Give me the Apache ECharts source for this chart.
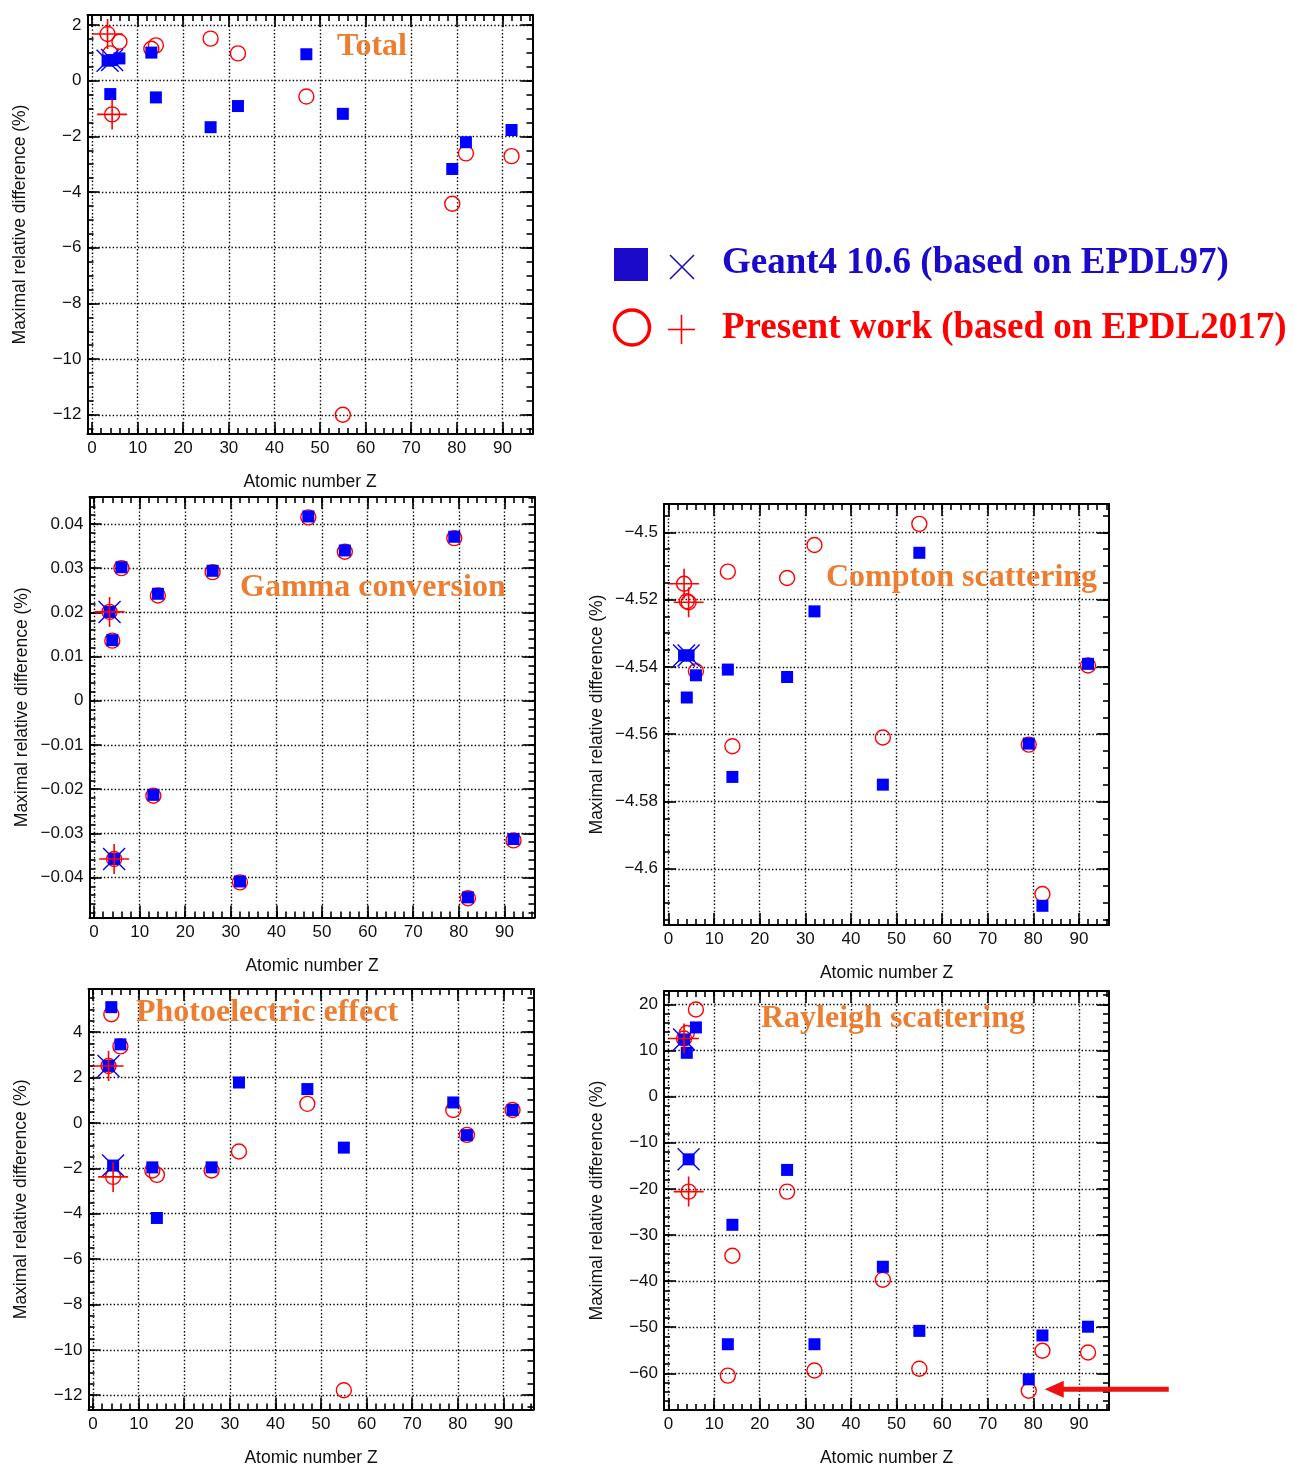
<!DOCTYPE html>
<html><head><meta charset="utf-8">
<script src="https://cdn.jsdelivr.net/npm/echarts@6/dist/echarts.min.js"></script>
<style>html,body{margin:0;padding:0;background:#fff}#c{width:1295px;height:1468px}</style>
</head><body><div id="c"></div>
<script>
// ---------- DATA ----------
// Atomic numbers (first three are the low-Z entries drawn around Z≈4)
const Z = [3.4, 4.0, 4.4, 6, 13, 14, 26, 32, 47, 55, 79, 82, 92];
// indices of points that also carry the × / + markers
const crossIdx = [0, 2];

const g4Total = [0.72, -0.48, 0.74, 0.80, 1.01, -0.60, -1.67, -0.91, 0.95, -1.19, -3.17, -2.21, -1.77];
const pwTotal = [1.68, 0.98, -1.21, 1.40, 1.15, 1.27, 1.51, 0.98, -0.57, -12.0, -4.42, -2.61, -2.71];

const g4Gamma = [0.0201, 0.0137, -0.0358, 0.0302, -0.0213, 0.0242, 0.0294, -0.0409, 0.0417, 0.0340, 0.0371, -0.0445, -0.0313];
const pwGamma = [0.0201, 0.0136, -0.0358, 0.0300, -0.0215, 0.0238, 0.0291, -0.0411, 0.0415, 0.0337, 0.0368, -0.0447, -0.0316];

const g4Compton = [-4.5366, -4.5491, -4.5366, -4.5425, -4.5408, -4.5727, -4.5430, -4.5235, -4.5750, -4.5061, -4.5628, -4.6110, -4.5391];
const pwCompton = [-4.5153, -4.5205, -4.5208, -4.5413, -4.5117, -4.5636, -4.5136, -4.5038, -4.5610, -4.4975, -4.5631, -4.6075, -4.5396];

const g4Photo = [2.51, 5.10, -1.88, 3.46, -1.96, -4.19, -1.96, 1.78, 1.49, -1.09, 0.90, -0.54, 0.57];
const pwPhoto = [2.51, 4.79, -2.38, 3.37, -2.10, -2.29, -2.10, -1.26, 0.84, -11.78, 0.57, -0.53, 0.57];

const g4Rayleigh = [12.4, 9.5, -13.6, 15.0, -53.7, -27.8, -15.9, -53.7, -36.9, -50.8, -61.3, -51.8, -49.9];
const pwRayleigh = [12.6, 13.8, -20.6, 18.9, -60.5, -34.5, -20.6, -59.4, -39.7, -59.0, -63.8, -55.1, -55.5];

// tick labels
const xTicks = [0, 10, 20, 30, 40, 50, 60, 70, 80, 90];
const totalTicks = [-12, -10, -8, -6, -4, -2, 0, 2];
const gammaTicks = [-0.04, -0.03, -0.02, -0.01, 0, 0.01, 0.02, 0.03, 0.04];
const comptonTicks = [-4.6, -4.58, -4.56, -4.54, -4.52, -4.5];
const photoTicks = [-12, -10, -8, -6, -4, -2, 0, 2, 4];
const rayleighTicks = [-60, -50, -40, -30, -20, -10, 0, 10, 20];

const titles = ['Total', 'Gamma conversion', 'Compton scattering', 'Photoelectric effect', 'Rayleigh scattering'];
const legendNames = ['Geant4 10.6 (based on EPDL97)', 'Present work (based on EPDL2017)'];

// ---------- LAYOUT / STYLE ----------
const X_MIN = -1, X_MAX = 96.6, X_MINOR = 2;
const SANS = '"Liberation Sans", Arial, sans-serif';
const SERIF = '"Liberation Serif", "Times New Roman", serif';
const BLUE = '#0000ff', RED = '#ff0000', ORANGE = '#ed7d31', LEG_BLUE = '#1c0acb';

const panels = [
  {grid:{left:87.5, top:15, width:445, height:419}, y:[-12.69, 2.36], ticks:totalTicks, minor:0.5, g4:g4Total, pw:pwTotal, tx:337, tb:58},
  {grid:{left:89.5, top:497, width:445, height:420.5}, y:[-0.04905, 0.0461], ticks:gammaTicks, minor:0.002, g4:g4Gamma, pw:pwGamma, tx:240, tb:599},
  {grid:{left:664, top:504, width:445, height:421}, y:[-4.6167, -4.4916], ticks:comptonTicks, minor:0.005, g4:g4Compton, pw:pwCompton, tx:826, tb:589},
  {grid:{left:88.5, top:989, width:445, height:420.5}, y:[-12.63, 5.9], ticks:photoTicks, minor:0.5, g4:g4Photo, pw:pwPhoto, tx:136, tb:1024},
  {grid:{left:664, top:991, width:445, height:419}, y:[-67.96, 22.9], ticks:rayleighTicks, minor:2, g4:g4Rayleigh, pw:pwRayleigh, tx:761, tb:1030}
];

function fmt(v) { return String(+(+v).toFixed(4)).replace('-', '\u2212'); }
function minorValues(min, max, step) {
  const out = [];
  let k = Math.ceil(min / step - 1e-9);
  for (; k * step <= max + 1e-9; k++) out.push(+(k * step).toFixed(6));
  return out;
}
const tickLine = {color:'#000', width:1.6};
const labelStyle = {color:'#111', fontSize:17, fontFamily:SANS};
const nameStyle = {color:'#111', fontSize:17.5, fontFamily:SANS};

function mainAxis(g, pos, min, max, ticks, name, gap, rotate) {
  return {type:'value', gridIndex:g, position:pos, min:min, max:max,
    axisLine:{show:true, onZero:false, lineStyle:{color:'#000', width:2}},
    axisTick:{show:true, inside:true, length:12, customValues:ticks, lineStyle:tickLine},
    minorTick:{show:false},
    axisLabel:Object.assign({show:true, customValues:ticks, formatter:fmt, margin:6}, labelStyle),
    splitLine:{show:true, lineStyle:{color:'#000', width:1.4, type:[1.4, 2.2]}},
    name:name, nameLocation:'middle', nameGap:gap, nameRotate:rotate, nameTextStyle:nameStyle,
    nameMoveOverlap:false};
}
function frameAxis(g, pos, min, max, ticks) {
  return {type:'value', gridIndex:g, position:pos, min:min, max:max,
    axisLine:{show:true, onZero:false, lineStyle:{color:'#000', width:2}},
    axisTick:{show:true, inside:true, length:12, customValues:ticks, lineStyle:tickLine},
    minorTick:{show:false}, axisLabel:{show:false}, splitLine:{show:false}};
}
function minorAxis(g, pos, min, max, step) {
  return {type:'value', gridIndex:g, position:pos, min:min, max:max,
    axisLine:{show:false, onZero:false},
    axisTick:{show:true, inside:true, length:6, customValues:minorValues(min, max, step), lineStyle:tickLine},
    minorTick:{show:false}, axisLabel:{show:false}, splitLine:{show:false}};
}

const option = {animation:false, backgroundColor:'#fff', grid:[], xAxis:[], yAxis:[], series:[]};
const crossPath = 'path://M0,0L10,10M10,0L0,10';
const plusPath = 'path://M0,5L10,5M5,0L5,10';
let rayRedSeries = -1;

panels.forEach((p, g) => {
  option.grid.push(Object.assign({containLabel:false, outerBoundsMode:'none'}, p.grid));
  option.xAxis.push(
    mainAxis(g, 'bottom', X_MIN, X_MAX, xTicks, 'Atomic number Z', 39.5, 0),
    frameAxis(g, 'top', X_MIN, X_MAX, xTicks),
    minorAxis(g, 'bottom', X_MIN, X_MAX, X_MINOR),
    minorAxis(g, 'top', X_MIN, X_MAX, X_MINOR));
  option.yAxis.push(
    mainAxis(g, 'left', p.y[0], p.y[1], p.ticks, 'Maximal relative difference (%)', 58, 90),
    frameAxis(g, 'right', p.y[0], p.y[1], p.ticks),
    minorAxis(g, 'left', p.y[0], p.y[1], p.minor),
    minorAxis(g, 'right', p.y[0], p.y[1], p.minor));
  const ax = 4 * g;
  if (g === 4) rayRedSeries = option.series.length;
  option.series.push(
    {type:'scatter', xAxisIndex:ax, yAxisIndex:ax, name:legendNames[1], symbol:'circle', symbolSize:15,
      itemStyle:{color:'rgba(0,0,0,0)', borderColor:RED, borderWidth:1.4, opacity:1}, z:2,
      data:Z.map((z, i) => [z, p.pw[i]])},
    {type:'scatter', xAxisIndex:ax, yAxisIndex:ax, name:legendNames[0], symbol:'rect', symbolSize:12,
      itemStyle:{color:BLUE, opacity:1}, z:3,
      data:Z.map((z, i) => [z, p.g4[i]])},
    {type:'scatter', xAxisIndex:ax, yAxisIndex:ax, symbol:crossPath, symbolSize:22,
      itemStyle:{color:'none', borderColor:BLUE, borderWidth:1.4, opacity:1}, z:4,
      data:crossIdx.map(i => [Z[i], p.g4[i]])},
    {type:'scatter', xAxisIndex:ax, yAxisIndex:ax, symbol:plusPath, symbolSize:30,
      itemStyle:{color:'none', borderColor:RED, borderWidth:1.6, opacity:1}, z:5,
      data:crossIdx.map(i => [Z[i], p.pw[i]])}
  );
});

const chart = echarts.init(document.getElementById('c'), null, {renderer:'canvas'});
chart.setOption(option);

// ---------- annotations ----------
const graphics = [];
panels.forEach((p, g) => {
  graphics.push({type:'text', z:100, style:{text:titles[g], x:p.tx, y:p.tb - 11, font:'bold 32px ' + SERIF,
    fill:ORANGE, verticalAlign:'middle', align:'left'}});
});
// legend
graphics.push(
  {type:'rect', z:100, shape:{x:614, y:248, width:34, height:33}, style:{fill:LEG_BLUE}},
  {type:'line', z:100, shape:{x1:670, y1:255, x2:694, y2:279}, style:{stroke:LEG_BLUE, lineWidth:1.6}},
  {type:'line', z:100, shape:{x1:670, y1:279, x2:694, y2:255}, style:{stroke:LEG_BLUE, lineWidth:1.6}},
  {type:'text', z:100, style:{text:legendNames[0], x:722, y:263.5, font:'bold 37px ' + SERIF, fill:LEG_BLUE, verticalAlign:'middle'}},
  {type:'circle', z:100, shape:{cx:632, cy:327.5, r:17.5}, style:{fill:'none', stroke:RED, lineWidth:3.5}},
  {type:'line', z:100, shape:{x1:668, y1:329.5, x2:695, y2:329.5}, style:{stroke:RED, lineWidth:1.6}},
  {type:'line', z:100, shape:{x1:681.5, y1:315, x2:681.5, y2:344}, style:{stroke:RED, lineWidth:1.6}},
  {type:'text', z:100, style:{text:legendNames[1], x:722, y:328.5, font:'bold 37px ' + SERIF, fill:RED, verticalAlign:'middle'}}
);
// arrow pointing at the Au (Z=79) present-work Rayleigh point
const pt = chart.convertToPixel({seriesIndex:rayRedSeries}, [Z[10], pwRayleigh[10]]);
const tipX = pt[0] + 16, ay = pt[1] - 1.5;
graphics.push(
  {type:'rect', z:100, shape:{x:tipX + 17, y:ay - 2.5, width:107, height:5}, style:{fill:'#ee1111'}},
  {type:'polygon', z:100, shape:{points:[[tipX, ay], [tipX + 19, ay - 8.5], [tipX + 19, ay + 8.5]]}, style:{fill:'#ee1111'}}
);
chart.setOption({graphic:graphics});
</script></body></html>
